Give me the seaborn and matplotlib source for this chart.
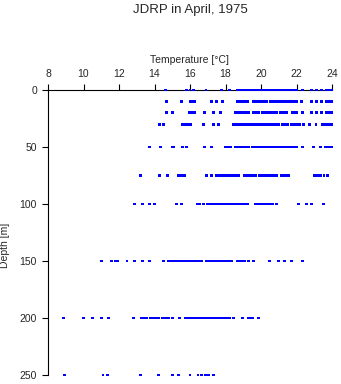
import matplotlib
matplotlib.use("Agg")
import matplotlib.pyplot as plt
import seaborn as sns
import pandas as pd

# Temperature readings (deg C) at each sampling depth (m)
t_0m = [14.6, 15.8, 16.0, 16.2, 16.9, 17.8, 18.2, 18.65, 18.8, 18.95, 19.1, 19.25, 19.4,
        19.55, 19.7, 19.8, 19.95, 20.1, 20.25, 20.4, 20.55, 20.7, 20.85, 21.0, 21.15, 21.3,
        21.45, 21.6, 21.75, 21.9, 22.0, 22.35, 22.87, 23.15, 23.43, 23.7, 23.85, 24.0]
t_10m = [14.65, 15.5, 16.0, 16.1, 16.25, 17.2, 17.5, 17.85, 18.65, 18.8, 18.95, 19.1, 19.25,
         19.55, 19.7, 19.85, 20.0, 20.15, 20.3, 20.55, 20.7, 20.85, 21.0, 21.15, 21.3, 21.45,
         21.6, 21.75, 21.9, 22.0, 22.3, 22.85, 23.15, 23.4, 23.7, 23.85, 24.0]
t_20m = [14.65, 15.0, 15.95, 16.1, 16.25, 16.8, 17.3, 17.7, 18.55, 18.7, 18.85, 19.0, 19.15,
         19.3, 19.55, 19.7, 19.85, 20.1, 20.25, 20.4, 20.5, 20.65, 20.8, 20.9, 21.1, 21.25,
         21.45, 21.75, 21.9, 22.0, 22.35, 22.85, 23.15, 23.4, 23.7, 23.85, 24.0]
t_30m = [14.3, 14.5, 15.6, 15.75, 15.9, 16.05, 16.75, 17.3, 17.6, 18.45, 18.6, 18.75, 18.9,
         19.05, 19.2, 19.35, 19.5, 19.65, 19.8, 19.95, 20.1, 20.25, 20.4, 20.55, 20.7, 20.85,
         21.0, 21.2, 21.35, 21.5, 21.7, 21.85, 22.0, 22.15, 22.4, 22.75, 23.1, 23.45, 23.65,
         23.8, 23.95]
t_50m = [13.7, 14.35, 15.0, 15.1, 15.6, 15.8, 16.8, 17.2, 18.0, 18.15, 18.3, 18.55, 18.7,
         18.85, 19.0, 19.15, 19.3, 19.5, 19.6, 19.75, 19.9, 20.1, 20.25, 20.4, 20.6, 20.75,
         20.95, 21.1, 21.25, 21.4, 21.55, 21.7, 21.85, 22.0, 22.35, 22.95, 23.35, 23.65,
         23.8, 23.95]
t_75m = [13.2, 14.3, 14.75, 15.35, 15.5, 15.7, 16.95, 17.2, 17.5, 17.65, 17.8, 17.95, 18.1,
         18.3, 18.45, 18.6, 18.75, 19.05, 19.2, 19.35, 19.5, 19.7, 19.9, 20.05, 20.2, 20.35,
         20.5, 20.65, 20.8, 20.9, 21.15, 21.3, 21.45, 21.55, 23.0, 23.2, 23.35, 23.55, 23.75]
t_100m = [12.85, 13.35, 13.7, 14.0, 15.25, 15.5, 16.4, 16.55, 16.75, 17.0, 17.15, 17.3, 17.5,
          17.65, 17.8, 17.95, 18.1, 18.25, 18.35, 18.45, 18.6, 18.75, 18.85, 19.0, 19.15,
          19.25, 19.7, 19.85, 20.0, 20.15, 20.3, 20.5, 20.65, 20.85, 22.1, 22.55, 22.85, 23.5]
t_150m = [11.0, 11.6, 11.8, 11.9, 12.45, 12.85, 13.3, 13.7, 14.5, 14.8, 14.95, 15.1, 15.25,
          15.4, 15.6, 15.75, 15.9, 16.05, 16.2, 16.35, 16.5, 16.65, 16.9, 17.0, 17.15, 17.3,
          17.45, 17.6, 17.75, 17.9, 18.05, 18.2, 18.35, 18.65, 18.8, 18.95, 19.1, 19.3, 19.6,
          20.5, 21.0, 21.3, 21.7, 22.35]
t_200m = [8.85, 10.0, 10.5, 11.0, 11.4, 12.8, 13.25, 13.4, 13.55, 13.75, 13.9, 14.05, 14.2,
          14.45, 14.6, 14.8, 15.0, 15.4, 15.75, 15.9, 16.05, 16.2, 16.35, 16.5, 16.65, 16.8,
          16.95, 17.1, 17.25, 17.4, 17.55, 17.7, 17.85, 18.0, 18.1, 18.25, 18.45, 18.95,
          19.3, 19.45, 19.55, 19.85]
t_250m = [8.95, 11.1, 11.35, 13.2, 14.2, 15.0, 15.35, 16.0, 16.45, 16.65, 16.85, 17.05, 17.3]

depths = [0, 10, 20, 30, 50, 75, 100, 150, 200, 250]
temps_by_depth = [t_0m, t_10m, t_20m, t_30m, t_50m, t_75m, t_100m, t_150m, t_200m, t_250m]

x_ticks = [8, 10, 12, 14, 16, 18, 20, 22, 24]
y_ticks = [0, 50, 100, 150, 200, 250]

df = pd.DataFrame(
    [(t, d) for d, ts in zip(depths, temps_by_depth) for t in ts],
    columns=["temperature", "depth"],
)

sns.set_style("ticks")
plt.rcParams["font.family"] = ["Liberation Sans", "DejaVu Sans"]

fig = plt.figure(figsize=(3.41, 3.84), dpi=100)
ax = fig.add_axes([48 / 341, 1 - 375 / 384, 284 / 341, 285 / 384])

sns.scatterplot(data=df, x="temperature", y="depth", ax=ax, marker="s", s=4.5,
                color="#0000ff", edgecolor="none", linewidth=0, clip_on=False,
                legend=False, zorder=3)

ax.set_xlim(8, 24)
ax.set_ylim(250, 0)
ax.set_xticks(x_ticks)
ax.set_yticks(y_ticks)
ax.xaxis.tick_top()
ax.xaxis.set_label_position("top")
for side in ("bottom", "right"):
    ax.spines[side].set_visible(False)
for side in ("top", "left"):
    ax.spines[side].set_linewidth(0.8)
    ax.spines[side].set_color("black")
ax.tick_params(axis="both", direction="out", length=4, width=0.8, color="black",
               labelsize=7.5, pad=4)
ax.set_xlabel("Temperature [°C]", fontsize=7.5, labelpad=4)
ax.set_ylabel("Depth [m]", fontsize=7.5)
ax.yaxis.set_label_coords(-0.135, 0.455)

fig.text(190 / 341, 1 - 10 / 384, "JDRP in April, 1975", ha="center", va="center", fontsize=9.5)

fig.savefig("out.png", dpi=100)
